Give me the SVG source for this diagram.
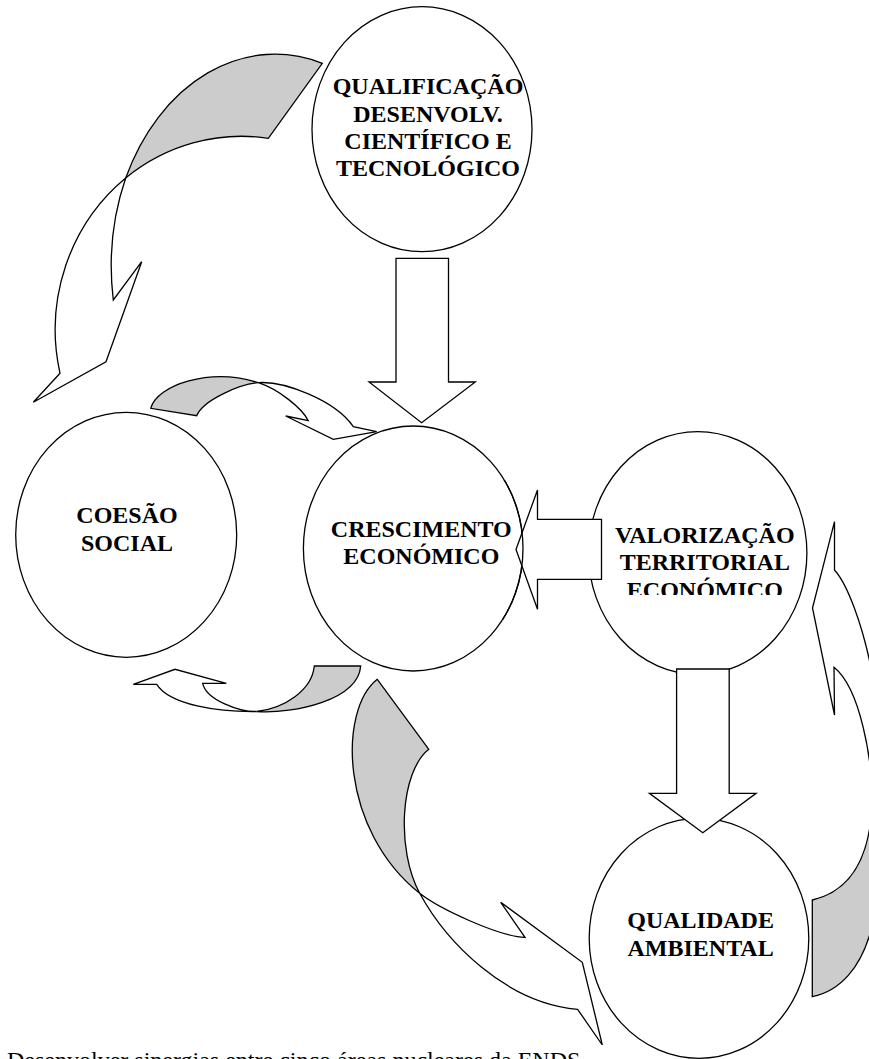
<svg xmlns="http://www.w3.org/2000/svg" width="869" height="1059" viewBox="0 0 869 1059">
<style>
.sh{fill:#fff;stroke:#000;stroke-width:1.3;stroke-linejoin:miter}
.gr{fill:#ccc;stroke:#000;stroke-width:1.3;stroke-linejoin:miter}
.ol{fill:none;stroke:#000;stroke-width:1.3}
.lbl{font-family:"Liberation Serif","Times New Roman",serif;font-weight:bold;font-size:24px;text-anchor:middle;fill:#000}
.cap{font-family:"Liberation Serif","Times New Roman",serif;font-size:24px;fill:#000}
</style>
<defs>
<clipPath id="clipVal"><rect x="570" y="420" width="260" height="175"/></clipPath>
<clipPath id="clipTip"><rect x="500" y="480" width="40" height="140"/></clipPath>
</defs>
<rect width="869" height="1059" fill="#fff"/>
<g id="n1">
<ellipse class="sh" cx="422" cy="129.2" rx="110" ry="122.5"/>
<text class="lbl" x="428" y="94.3">QUALIFICAÇÃO</text>
<text class="lbl" x="428" y="121.7">DESENVOLV.</text>
<text class="lbl" x="428" y="149">CIENTÍFICO E</text>
<text class="lbl" x="428" y="175.7">TECNOLÓGICO</text>
</g>
<g id="n2">
<ellipse class="sh" cx="126.2" cy="534.8" rx="110.5" ry="122.5"/>
<text class="lbl" x="127" y="523.3">COESÃO</text>
<text class="lbl" x="127" y="551">SOCIAL</text>
</g>
<g id="n3">
<ellipse class="sh" cx="413.2" cy="548.5" rx="109.8" ry="122.5"/>
<text class="lbl" x="421.3" y="536.7">CRESCIMENTO</text>
<text class="lbl" x="421.3" y="564.3">ECONÓMICO</text>
</g>
<g id="n4">
<ellipse class="sh" cx="697.7" cy="553" rx="109.2" ry="121.3"/>
<g clip-path="url(#clipVal)">
<text class="lbl" x="704.8" y="542.7">VALORIZAÇÃO</text>
<text class="lbl" x="704.8" y="570">TERRITORIAL</text>
<text class="lbl" x="704.8" y="597.5">ECONÓMICO</text>
</g>
</g>
<g id="n5">
<ellipse class="sh" cx="699" cy="938.3" rx="109.8" ry="120"/>
<text class="lbl" x="700.6" y="928.3">QUALIDADE</text>
<text class="lbl" x="700.6" y="955.7">AMBIENTAL</text>
</g>
<g id="connectors">
<path class="sh" d="M396,258.3 H448.5 V382 H475.3 L421.6,422.7 L369,382 H396 Z"/>
<path class="sh" d="M601.5,519.3 V579.3 H537.5 V609.3 L516,549.5 L537.5,490 V519.3 Z"/>
<ellipse class="ol" clip-path="url(#clipTip)" cx="413.2" cy="548.5" rx="109.8" ry="122.5"/>
<path class="sh" d="M676.6,669 H729.2 V793.3 H756.1 L702.8,832.7 L649.4,793.3 H676.6 Z"/>
<path class="gr" d="M322.3,63.3 A165,216 0 0 0 125.7,178 A187,194 0 0 1 268.3,138.3 Z"/>
<path class="sh" d="M125.7,178 A187,194 0 0 0 60,373.3 L33.3,402.3 L106,361.7 L141.7,261.7 L113.3,300 A165,216 0 0 1 125.7,178 Z"/>
<path class="gr" d="M150.7,408.3 C157,385 210,367 258.3,382.7 C240,384 203,400 196.7,415.7 Z"/>
<path class="sh" d="M258.3,382.7 C283.3,380.7 335,400 353.3,426.7 L376.7,431.7 L333.3,439.3 L285.7,416 L308.3,420.7 C302,408 278.3,389.2 258.3,382.7 Z"/>
<path class="gr" d="M314.3,666 L360.7,666 C358,700 295,714 256.7,711.5 C285,708 312,690 314.3,666 Z"/>
<path class="sh" d="M256.7,711.5 C218,712 170,705 156.7,684.3 L133.3,684.3 L175,669.3 L226.3,683.3 L202.7,683.3 C206,700 240,712 256.7,711.5 Z"/>
<path class="gr" d="M377.3,679.3 C338,710 340,830 419.7,893.3 C396,850 400,772 428.8,749.3 Z"/>
<path class="sh" d="M419.7,893.3 C439.2,908.8 500,937 525,937.3 L500.7,902.3 L582.3,962.3 L602.3,1045 L577.6,1009.3 C505,1003 446.1,941.7 419.7,893.3 Z"/>
<path class="gr" d="M812.3,900 C855,890 870,850 872,805 C890,900 870,985 812.3,996.7 Z"/>
<path class="sh" d="M834.5,570 C860,598 895,730 872,805 C873,760 860,688 834,667.3 L834.5,715 L812.5,608 L834.5,521.7 Z"/>
</g>
<text class="cap" x="7" y="1067.5">Desenvolver sinergias entre cinco áreas nucleares da ENDS</text>
</svg>
